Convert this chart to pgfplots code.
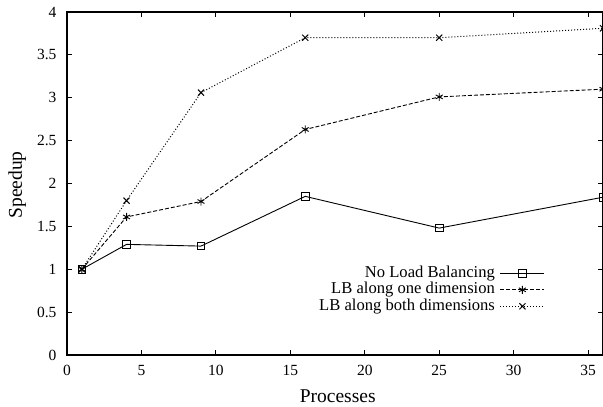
\documentclass[border=0pt]{standalone}
\usepackage{fontspec}
\setmainfont{Liberation Serif}
\usepackage{pgfplots}
\pgfplotsset{compat=1.18}
\usetikzlibrary{calc, plotmarks}
\newcommand{\fticks}{\fontsize{15.5}{17}\selectfont}
\newcommand{\flabel}{\fontsize{19.5}{21}\selectfont}
\newcommand{\flegend}{\fontsize{16.6}{18}\selectfont}

\begin{document}
\begin{tikzpicture}
\begin{axis}[
  scale only axis,
  width=536pt, height=343pt,
  xmin=0, xmax=36, ymin=0, ymax=4,
  xtick={0,5,...,35},
  ytick={0,0.5,...,4},
  tick align=inside,
  major tick length=5pt,
  axis line style={line width=1.4pt},
  tick style={line width=1pt, black},
  /pgf/number format/assume math mode=true,
  tick label style={font=\fticks},
  label style={font=\flabel},
  yticklabel style={xshift=-7pt},
  xticklabel style={yshift=-6.5pt},
  xlabel={Processes},
  ylabel={Speedup},
  xlabel style={at={(axis description cs:0.505,-0.12)}, anchor=center},
  ylabel style={at={(axis description cs:-0.093,0.496)}, anchor=center},
  legend plot pos=right,
  legend cell align=right,
  legend image code/.code={\draw[mark repeat=2,mark phase=2] plot coordinates {(0pt,0pt)(22pt,0pt)(44pt,0pt)};},
  legend style={at={(axis description cs:0.892,0.19)}, anchor=east, draw=none, fill=none,
    inner sep=0pt, row sep=0pt, column sep=4pt, font=\flegend,
    nodes={inner sep=1pt, text height=11pt, text depth=3.5pt}},
]
\coordinate (sw) at (rel axis cs:0,0);
\coordinate (ne) at (rel axis cs:1,1);

%% no load balancing
\addplot[black, line width=0.9pt, mark=square, mark size=3.8pt, mark options={solid}] coordinates {
  (1,1.00) (4,1.29) (9,1.27) (16,1.85) (25,1.48) (36,1.84)
};
\addlegendentry{No Load Balancing}

%% LB along one dimension
\addplot[black, line width=0.9pt, dash pattern=on 4pt off 2pt, mark=asterisk, mark size=4pt, mark options={solid}] coordinates {
  (1,1.00) (4,1.61) (9,1.79) (16,2.63) (25,3.01) (36,3.10)
};
\addlegendentry{LB along one dimension}

%% LB along both dimensions
\addplot[black, line width=1pt, dash pattern=on 1pt off 2pt, mark=x, mark size=4.3pt, mark options={solid}] coordinates {
  (1,1.00) (4,1.80) (9,3.06) (16,3.70) (25,3.70) (36,3.81)
};
\addlegendentry{LB along both dimensions}
\end{axis}
\pgfresetboundingbox
\path[use as bounding box] ($(sw)+(-67pt,-51pt)$) rectangle ($(ne)+(0pt,12pt)$);
\end{tikzpicture}
\end{document}
